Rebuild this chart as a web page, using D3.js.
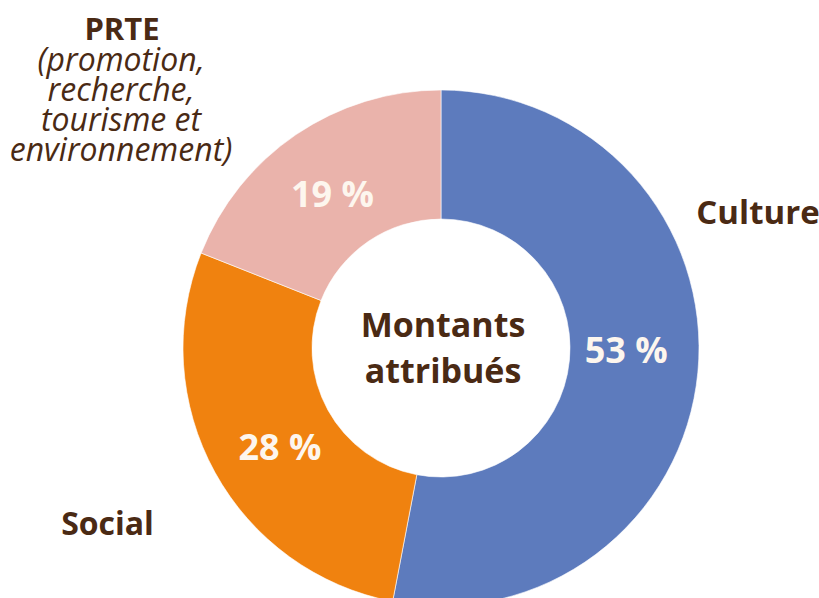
<!DOCTYPE html>
<html>
<head>
<meta charset="utf-8">
<script src="https://cdn.jsdelivr.net/npm/d3@7"></script>
<style>
  body { margin: 0; background: #fff; }
  text { font-family: "Open Sans", sans-serif; }
</style>
</head>
<body>
<div id="chart"></div>
<script>
const categories = ["Culture", "Social", "PRTE"];
const shares = [53, 28, 19];
const pctLabels = ["53 %", "28 %", "19 %"];
const prteDetail = ["(promotion,", "recherche,", "tourisme et", "environnement)"];
const centerLines = ["Montants", "attribués"];

const W = 819, H = 598;
const CX = 441, CY = 348;
const R_OUT = 258, R_IN = 129;
const TEXT = "#4a2a14";

const color = d3.scaleOrdinal()
    .domain(categories)
    .range(["#5d7bbd", "#f0820f", "#eab3ab"]);

const svg = d3.select("#chart").append("svg")
    .attr("width", W)
    .attr("height", H);

const g = svg.append("g").attr("transform", `translate(${CX},${CY})`);

const pie = d3.pie().sort(null).value(d => d.v);
const arcs = pie(categories.map((c, i) => ({c, v: shares[i], lab: pctLabels[i]})));

const arc = d3.arc().innerRadius(R_IN).outerRadius(R_OUT);

g.selectAll("path.slice")
    .data(arcs)
    .enter().append("path")
    .attr("class", "slice")
    .attr("d", arc)
    .attr("fill", d => color(d.data.c))
    .attr("stroke", "#fff")
    .attr("stroke-width", 0.6);

// percentage labels inside the ring
const labelArc = d3.arc().innerRadius(186).outerRadius(186);
const nudge = {Culture: [0, -15], Social: [2, 9], PRTE: [-4, 0]};

g.selectAll("text.pct")
    .data(arcs)
    .enter().append("text")
    .attr("class", "pct")
    .attr("x", d => labelArc.centroid(d)[0] + nudge[d.data.c][0])
    .attr("y", d => labelArc.centroid(d)[1] + nudge[d.data.c][1])
    .attr("text-anchor", "middle")
    .attr("dy", "0.36em")
    .attr("font-size", 36)
    .attr("font-weight", 700)
    .attr("fill", "#fdf6ee")
    .text(d => d.data.lab);

// center title
g.selectAll("text.center")
    .data(centerLines)
    .enter().append("text")
    .attr("class", "center")
    .attr("x", 2)
    .attr("y", (d, i) => -11 + i * 46)
    .attr("text-anchor", "middle")
    .attr("font-size", 34)
    .attr("font-weight", 700)
    .attr("fill", TEXT)
    .text(d => d);

// category labels outside
svg.append("text")
    .attr("x", 758).attr("y", 224)
    .attr("text-anchor", "middle")
    .attr("font-size", 33).attr("font-weight", 700)
    .attr("fill", TEXT)
    .text(categories[0]);

svg.append("text")
    .attr("x", 107.5).attr("y", 535)
    .attr("text-anchor", "middle")
    .attr("font-size", 32).attr("font-weight", 700)
    .attr("fill", TEXT)
    .text(categories[1]);

const prte = svg.append("text")
    .attr("text-anchor", "middle")
    .attr("fill", TEXT);

prte.append("tspan")
    .attr("x", 122).attr("y", 40)
    .attr("font-size", 31).attr("font-weight", 700)
    .text(categories[2]);

prte.selectAll("tspan.detail")
    .data(prteDetail)
    .enter().append("tspan")
    .attr("class", "detail")
    .attr("x", 121)
    .attr("y", (d, i) => 71 + i * 30)
    .attr("font-size", 32)
    .attr("font-style", "italic")
    .text(d => d);
</script>
</body>
</html>
